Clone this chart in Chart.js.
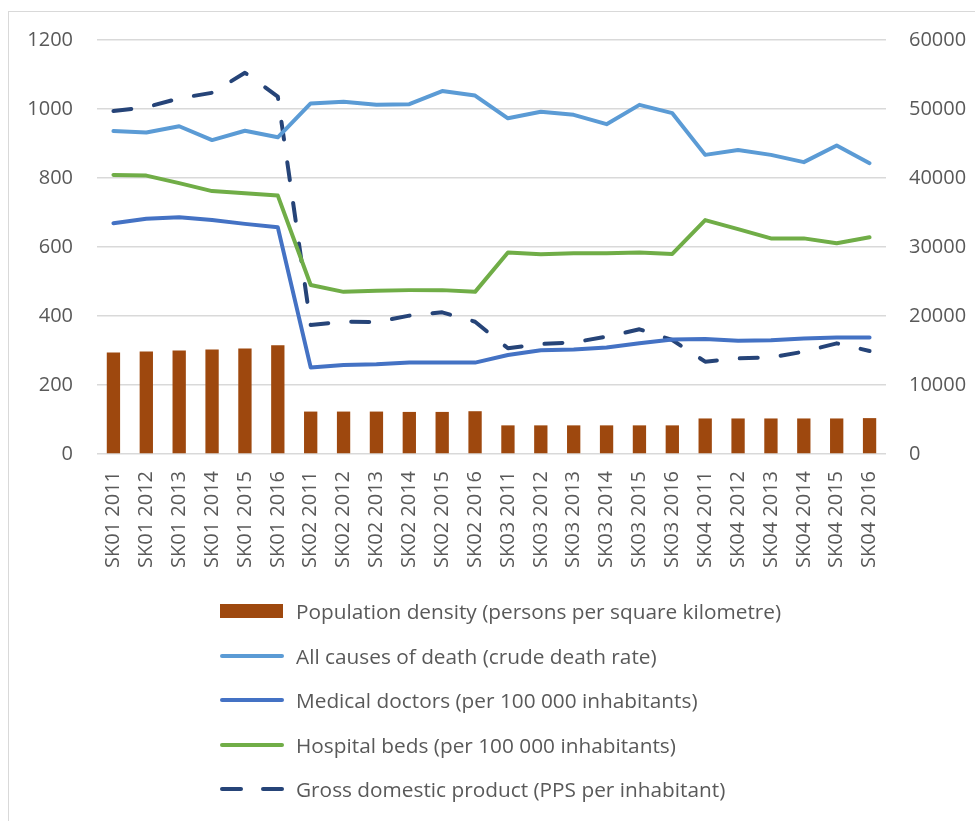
<!DOCTYPE html>
<html>
<head>
<meta charset="utf-8">
<script src="https://cdn.jsdelivr.net/npm/chart.js@4"></script>
<style>
    body { margin: 0; background: #fff; }
    #wrap { position: relative; width: 975px; height: 821px; overflow: hidden; font-family: "Open Sans", Lato, sans-serif; }
    #frame { position: absolute; left: 8px; top: 11px; width: 2000px; height: 2000px; border-left: 1px solid #d9d9d9; border-top: 1px solid #d9d9d9; }
    #chart-box { position: absolute; left: 0; top: 0; width: 975px; height: 590px; }
    #legend { position: absolute; left: 220px; top: 589px; }
    .item { height: 44.5px; display: flex; align-items: center; font-size: 20.8px; color: #595959; white-space: nowrap; }
    .swatch { width: 64px; margin-right: 12px; display: flex; align-items: center; }
</style>
</head>
<body>
<div id="wrap">
    <div id="frame"></div>
    <div id="chart-box"><canvas id="combo-chart"></canvas></div>
    <div id="legend"></div>
</div>
<script>
const categories = [
    'SK01 2011', 'SK01 2012', 'SK01 2013', 'SK01 2014', 'SK01 2015', 'SK01 2016',
    'SK02 2011', 'SK02 2012', 'SK02 2013', 'SK02 2014', 'SK02 2015', 'SK02 2016',
    'SK03 2011', 'SK03 2012', 'SK03 2013', 'SK03 2014', 'SK03 2015', 'SK03 2016',
    'SK04 2011', 'SK04 2012', 'SK04 2013', 'SK04 2014', 'SK04 2015', 'SK04 2016'
];

const populationDensity = [294, 297, 300, 303, 306, 315, 123, 123, 123, 122, 122, 124,
    83, 83, 83, 83, 83, 83, 103, 103, 103, 103, 103, 104];
const deathRate = [936, 932, 950, 910, 937, 918, 1016, 1021, 1012, 1014, 1052, 1039,
    973, 992, 983, 956, 1012, 988, 867, 881, 867, 846, 894, 843];
const medicalDoctors = [669, 682, 686, 678, 667, 657, 251, 258, 260, 265, 265, 265,
    287, 301, 303, 309, 321, 332, 333, 328, 330, 335, 338, 338];
const hospitalBeds = [809, 807, 785, 762, 756, 749, 490, 470, 473, 475, 475, 470,
    584, 579, 582, 582, 584, 580, 678, 652, 625, 625, 611, 628];
const gdp = [49700, 50250, 51550, 52350, 55250, 51800, 18700, 19170, 19130, 20050, 20530, 19170,
    15320, 15940, 16180, 17000, 18070, 16520, 13380, 13860, 14000, 14830, 16040, 14930];

const leftTicks = [0, 200, 400, 600, 800, 1000, 1200];
const rightTicks = [0, 10000, 20000, 30000, 40000, 50000, 60000];

const labelFont = { family: 'Open Sans', size: 20 };
const textColor = '#595959';

function lineSet(label, data, color, axis) {
    return {
        type: 'line',
        label: label,
        data: data,
        borderColor: color,
        backgroundColor: color,
        borderWidth: 4,
        pointRadius: 0,
        tension: 0,
        borderJoinStyle: 'round',
        borderCapStyle: 'round',
        yAxisID: axis
    };
}

function initChart() {
    const ctx = document.getElementById('combo-chart').getContext('2d');

    const gdpSet = lineSet('Gross domestic product (PPS per inhabitant)', gdp, '#264478', 'y2');
    gdpSet.borderDash = [18, 23];

    const chart = new Chart(ctx, {
        data: {
            labels: categories,
            datasets: [
                lineSet('All causes of death (crude death rate)', deathRate, '#5b9bd5', 'y'),
                lineSet('Medical doctors (per 100 000 inhabitants)', medicalDoctors, '#4472c4', 'y'),
                lineSet('Hospital beds (per 100 000 inhabitants)', hospitalBeds, '#70ad47', 'y'),
                gdpSet,
                {
                    type: 'bar',
                    label: 'Population density (persons per square kilometre)',
                    data: populationDensity,
                    backgroundColor: '#9e480e',
                    categoryPercentage: 1,
                    barPercentage: 0.405,
                    yAxisID: 'y',
                    order: 10
                }
            ]
        },
        options: {
            responsive: true,
            maintainAspectRatio: false,
            animation: false,
            layout: { padding: { top: 40, left: 0, right: 0, bottom: 0 } },
            plugins: {
                legend: { display: false },
                tooltip: { enabled: false }
            },
            scales: {
                x: {
                    grid: { display: false },
                    border: { display: false },
                    ticks: {
                        font: labelFont,
                        color: textColor,
                        minRotation: 90,
                        maxRotation: 90,
                        autoSkip: false,
                        padding: 9
                    },
                    afterFit: scale => { scale.height = 590 - 454; }
                },
                y: {
                    position: 'left',
                    min: 0,
                    max: 1200,
                    afterBuildTicks: scale => { scale.ticks = leftTicks.map(v => ({ value: v })); },
                    grid: { color: '#d9d9d9', lineWidth: 1.5, drawTicks: false },
                    border: { display: false },
                    ticks: { font: labelFont, color: textColor, padding: 24, callback: v => String(v) },
                    afterFit: scale => { scale.width = 97; }
                },
                y2: {
                    position: 'right',
                    min: 0,
                    max: 60000,
                    afterBuildTicks: scale => { scale.ticks = rightTicks.map(v => ({ value: v })); },
                    grid: { display: false, drawTicks: false },
                    border: { display: false },
                    ticks: { font: labelFont, color: textColor, padding: 23, callback: v => String(v) },
                    afterFit: scale => { scale.width = 975 - 886; }
                }
            }
        }
    });

    buildLegend(chart);
}

function buildLegend(chart) {
    const legend = document.getElementById('legend');
    // bar first, then lines in drawing order
    const order = [4, 0, 1, 2, 3];
    order.forEach(i => {
        const ds = chart.data.datasets[i];
        const item = document.createElement('div');
        item.className = 'item';
        const sw = document.createElement('div');
        sw.className = 'swatch';
        const mark = document.createElement('div');
        if (ds.type === 'bar') {
            mark.style.cssText = 'width:63px;height:14px;background:' + ds.backgroundColor;
        } else if (ds.borderDash) {
            mark.style.cssText = 'display:flex;gap:18px;';
            mark.innerHTML = '<span style="width:23px;height:4px;border-radius:2px;background:' + ds.borderColor + '"></span>' +
                '<span style="width:23px;height:4px;border-radius:2px;background:' + ds.borderColor + '"></span>';
        } else {
            mark.style.cssText = 'width:64px;height:4px;border-radius:2px;background:' + ds.borderColor;
        }
        sw.appendChild(mark);
        item.appendChild(sw);
        const text = document.createElement('span');
        text.textContent = ds.label;
        item.appendChild(text);
        legend.appendChild(item);
    });
}

document.fonts.load('20px "Open Sans"').then(initChart, initChart);
</script>
</body>
</html>
